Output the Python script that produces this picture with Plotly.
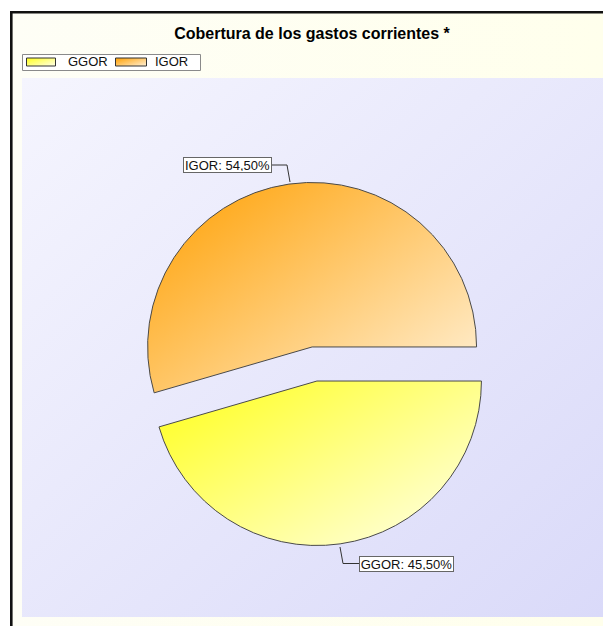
import base64
import json
import plotly.graph_objects as go

# ---------------- data ----------------
labels = ["GGOR", "IGOR"]
values = [45.5, 54.5]
slice_colors = ["#FFFF8C", "#FFC766"]          # solid fallback colours
grad_start = ["#FFFF33", "#FFA91A"]            # gradient (top-left) colours
grad_end = ["#FFFFDD", "#FFEBC8"]              # gradient (bottom-right) colours
title_text = "Cobertura de los gastos corrientes *"

# ---------------- geometry helpers (pixel -> paper) ----------------
W, H = 603, 626
FONT = "Liberation Sans, Arial, sans-serif"


def fx(px):
    return px / W


def fy(py):
    return 1 - py / H


def grad_uri(c0, c1, x2=1, y2=1):
    svg = (
        "<svg xmlns='http://www.w3.org/2000/svg' width='100' height='100' "
        "viewBox='0 0 100 100' preserveAspectRatio='none'>"
        f"<defs><linearGradient id='g' x1='0' y1='0' x2='{x2}' y2='{y2}'>"
        f"<stop offset='0' stop-color='{c0}'/><stop offset='1' stop-color='{c1}'/>"
        "</linearGradient></defs><rect width='100' height='100' fill='url(#g)'/></svg>"
    )
    return "data:image/svg+xml;base64," + base64.b64encode(svg.encode()).decode()


def pct_label(lab, val):
    return f"{lab}: {val:.2f}%".replace(".", ",")


pull = 0.1046
fig = go.Figure(
    go.Pie(
        labels=labels,
        values=values,
        sort=False,
        direction="clockwise",
        rotation=90,
        pull=[pull] * len(values),
        marker=dict(colors=slice_colors, line=dict(color="#4a4a4a", width=1)),
        textinfo="none",
        hoverinfo="label+percent",
        domain=dict(x=[0.2202, 0.8230], y=[0.1283, 0.7088]),
        showlegend=False,
    )
)

images = [
    dict(source=grad_uri("#FEFEF6", "#FFFFEC", 1, 0), xref="paper", yref="paper",
         x=fx(10), y=fy(11), sizex=fx(603) - fx(10), sizey=fy(11) - fy(626),
         sizing="stretch", layer="below", xanchor="left", yanchor="top"),
    dict(source=grad_uri("#F5F5FE", "#DADAF9", 1, 1), xref="paper", yref="paper",
         x=fx(22), y=fy(78), sizex=fx(603) - fx(22), sizey=fy(78) - fy(617),
         sizing="stretch", layer="below", xanchor="left", yanchor="top"),
]

shapes = [
    # chart frame (left + top)
    dict(type="rect", xref="paper", yref="paper", x0=fx(10), x1=fx(12.6), y0=fy(11), y1=fy(626),
         fillcolor="#111111", line=dict(width=0), layer="below"),
    dict(type="rect", xref="paper", yref="paper", x0=fx(10), x1=fx(603), y0=fy(11), y1=fy(13.6),
         fillcolor="#111111", line=dict(width=0), layer="below"),
    # legend box
    dict(type="rect", xref="paper", yref="paper", x0=fx(22.5), x1=fx(200.5), y0=fy(54.5), y1=fy(70.5),
         fillcolor="#FFFFFF", line=dict(color="#8a8a8a", width=1), layer="below"),
    # legend swatches (index 3, 4)
    dict(type="rect", xref="paper", yref="paper", x0=fx(26.5), x1=fx(55.5), y0=fy(58), y1=fy(66),
         fillcolor=slice_colors[0], line=dict(color="#333333", width=1), layer="above"),
    dict(type="rect", xref="paper", yref="paper", x0=fx(115.5), x1=fx(146.5), y0=fy(58), y1=fy(66),
         fillcolor=slice_colors[1], line=dict(color="#333333", width=1), layer="above"),
    # leader lines
    dict(type="path", xref="paper", yref="paper",
         path=f"M {fx(272)},{fy(165)} L {fx(287)},{fy(165)} L {fx(290)},{fy(182)}",
         line=dict(color="#333333", width=1), layer="above"),
    dict(type="path", xref="paper", yref="paper",
         path=f"M {fx(340)},{fy(547)} L {fx(343)},{fy(563.5)} L {fx(359)},{fy(563.5)}",
         line=dict(color="#333333", width=1), layer="above"),
]

annotations = [
    # legend texts
    dict(text=labels[0], x=fx(66), y=fy(62), xref="paper", yref="paper", showarrow=False,
         xanchor="left", yanchor="middle", font=dict(family=FONT, size=13, color="#111111")),
    dict(text=labels[1], x=fx(153), y=fy(62), xref="paper", yref="paper", showarrow=False,
         xanchor="left", yanchor="middle", font=dict(family=FONT, size=13, color="#111111")),
    # slice labels
    dict(text=pct_label(labels[1], values[1]), x=fx(227.5), y=fy(165), xref="paper", yref="paper",
         showarrow=False, xanchor="center", yanchor="middle", width=85, height=12,
         bgcolor="#FFFFFF", bordercolor="#666666", borderwidth=1, borderpad=1,
         font=dict(family=FONT, size=13, color="#111111")),
    dict(text=pct_label(labels[0], values[0]), x=fx(406.5), y=fy(564), xref="paper", yref="paper",
         showarrow=False, xanchor="center", yanchor="middle", width=91, height=12,
         bgcolor="#FFFFFF", bordercolor="#666666", borderwidth=1, borderpad=1,
         font=dict(family=FONT, size=13, color="#111111")),
]

fig.update_layout(
    width=W,
    height=H,
    margin=dict(l=0, r=0, t=0, b=0),
    paper_bgcolor="#FFFFFF",
    plot_bgcolor="rgba(0,0,0,0)",
    title=dict(text=title_text, x=fx(312), y=fy(33), xref="paper", yref="paper",
               xanchor="center", yanchor="middle",
               font=dict(family=FONT, size=16, color="#000000", weight="bold")),
    images=images,
    shapes=shapes,
    annotations=annotations,
)

grads = {"start": grad_start, "end": grad_end}
post = """
document.documentElement.style.margin = '0';
document.documentElement.style.padding = '0';
document.documentElement.style.overflow = 'hidden';
document.body.style.margin = '0';
document.body.style.padding = '0';
document.body.style.overflow = 'hidden';
var gd = document.getElementById('{plot_id}');
var NS = 'http://www.w3.org/2000/svg';
var GR = %s;
function addGrad(defs, id, c0, c1) {
  if (document.getElementById(id)) return;
  var g = document.createElementNS(NS, 'linearGradient');
  g.setAttribute('id', id);
  g.setAttribute('x1', '0.1'); g.setAttribute('y1', '0.15');
  g.setAttribute('x2', '0.95'); g.setAttribute('y2', '0.9');
  [[0, c0], [1, c1]].forEach(function (s) {
    var st = document.createElementNS(NS, 'stop');
    st.setAttribute('offset', s[0]); st.setAttribute('stop-color', s[1]);
    g.appendChild(st);
  });
  defs.appendChild(g);
}
function apply() {
  var svg = gd.querySelector('svg.main-svg');
  if (!svg) return;
  var defs = svg.querySelector('defs');
  if (!defs) { defs = document.createElementNS(NS, 'defs'); svg.insertBefore(defs, svg.firstChild); }
  for (var i = 0; i < GR.start.length; i++) addGrad(defs, 'sliceGrad' + i, GR.start[i], GR.end[i]);
  var slices = gd.querySelectorAll('g.slice');
  slices.forEach(function (s, i) {
    var p = s.querySelector('path.surface');
    if (p) p.style.fill = 'url(#sliceGrad' + i + ')';
  });
  for (var k = 0; k < GR.start.length; k++) {
    var sw = gd.querySelectorAll('.shapelayer path[data-index="' + (3 + k) + '"]');
    sw.forEach(function (p) { p.style.fill = 'url(#sliceGrad' + k + ')'; p.style.fillOpacity = 1; });
  }
}
apply();
gd.on('plotly_afterplot', apply);
""" % json.dumps(grads)

fig.write_html("out.html", post_script=post, config={"displayModeBar": False})
